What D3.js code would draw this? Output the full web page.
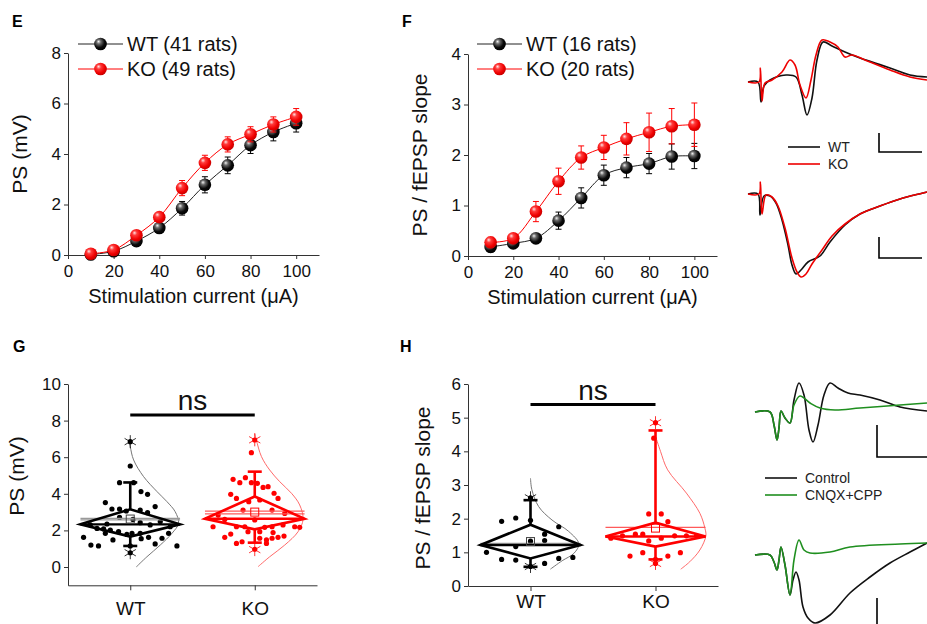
<!DOCTYPE html>
<html>
<head>
<meta charset="utf-8">
<script src="https://cdn.jsdelivr.net/npm/d3@7"></script>
<style>
  body { margin: 0; background: #fff; }
  svg { display: block; }
</style>
</head>
<body>
<div id="chart"></div>
<script>
const FONT = "'Liberation Sans', Arial, sans-serif"

// ---- E / F : input-output curves ----
const currents = [10, 20, 30, 40, 50, 60, 70, 80, 90, 100]
const currentTicks = [0, 20, 40, 60, 80, 100]
const psWT = [0.02, 0.15, 0.55, 1.07, 1.85, 2.78, 3.55, 4.35, 4.87, 5.22]
const psWTErr = [0.03, 0.05, 0.1, 0.15, 0.27, 0.32, 0.33, 0.33, 0.35, 0.35]
const psKO = [0.05, 0.2, 0.78, 1.5, 2.65, 3.65, 4.38, 4.78, 5.17, 5.47]
const psKOErr = [0.03, 0.06, 0.12, 0.18, 0.3, 0.3, 0.3, 0.3, 0.3, 0.33]
const ratioWT = [0.18, 0.25, 0.35, 0.7, 1.15, 1.6, 1.75, 1.83, 1.97, 1.98]
const ratioWTErr = [0.1, 0.05, 0.05, 0.17, 0.2, 0.2, 0.2, 0.2, 0.25, 0.25]
const ratioKO = [0.27, 0.35, 0.88, 1.48, 1.95, 2.15, 2.32, 2.45, 2.57, 2.6]
const ratioKOErr = [0.1, 0.05, 0.2, 0.26, 0.23, 0.24, 0.32, 0.38, 0.35, 0.43]

// ---- G / H : group comparison ----
const groups = ['WT', 'KO']
// dots: [jitter (category units), value]
const psDotsWT = [[0, 6.85], [0, 5.52], [-0.086, 4.61], [0.027, 4.61], [0.086, 4.12], [0.139, 3.97], [-0.2, 3.52], [0.2, 3.3],
  [-0.147, 3.17], [-0.086, 3.17], [-0.032, 3.06], [0.08, 3.11], [0.139, 2.97], [-0.086, 2.71], [0.022, 2.6], [0.241, 2.48],
  [-0.321, 2.3], [-0.187, 2.35], [0.08, 2.42], [0.16, 2.3], [-0.267, 2.11], [-0.214, 2.08], [-0.16, 2.02], [0.321, 2.2],
  [-0.2, 1.84], [-0.094, 1.93], [-0.027, 1.78], [0.014, 1.84], [0.08, 1.84], [0.308, 1.84], [-0.375, 1.62], [-0.139, 1.48],
  [0.088, 1.55], [0.147, 1.62], [0.255, 1.57], [-0.316, 1.2], [-0.255, 1.15], [0.2, 1.26], [0.375, 1.15], [0, 1.15], [0, 0.78]]
const psDotsKO = [[0, 6.94], [-0.027, 6.25], [-0.174, 4.79], [-0.12, 4.61], [-0.075, 4.88], [-0.027, 4.61], [0.021, 4.57],
  [0.067, 4.35], [0.107, 4.39], [-0.193, 3.97], [-0.147, 3.75], [0.155, 4.03], [0.187, 3.75], [0.04, 3.66], [-0.048, 3.57],
  [-0.094, 3.11], [0.139, 3.11], [-0.294, 2.84], [0.241, 2.93], [-0.241, 2.6], [0, 2.57], [-0.335, 2.2], [-0.147, 2.2],
  [-0.08, 2.2], [0.08, 2.17], [0.139, 2.2], [0.227, 2.3], [0.321, 2.2], [0.361, 2.17], [-0.054, 1.93], [0.04, 1.93],
  [0.147, 1.88], [-0.241, 1.62], [-0.193, 1.8], [0.04, 1.57], [0.094, 1.48], [0.139, 1.57], [0.187, 1.62], [0.235, 1.69],
  [-0.147, 1.29], [-0.102, 1.38], [0.094, 1.29], [0, 0.97]]
const ratioDotsWT = [[0, 2.62], [-0.231, 1.92], [-0.118, 2.02], [0, 1.95], [0.226, 1.76], [0.113, 1.54], [0.113, 1.35],
  [0, 1.33], [-0.118, 1.17], [-0.352, 1.0], [-0.231, 0.79], [-0.118, 0.77], [0.113, 0.67], [0.226, 0.82], [0.339, 0.85], [0, 0.58]]
const ratioDotsKO = [[0, 4.85], [-0.014, 4.39], [-0.054, 2.14], [0.046, 2.14], [0.099, 1.91], [-0.357, 1.42], [-0.264, 1.49],
  [-0.161, 1.54], [-0.102, 1.54], [-0.054, 1.34], [0.046, 1.42], [0.153, 1.49], [0.247, 1.49], [0.328, 1.49], [-0.204, 0.89],
  [-0.102, 0.99], [0.099, 0.89], [0.199, 0.99], [0, 0.79], [0, 0.67]]

// box stats: min/max (asterisks), whisker ends, quartiles, median, mean
const psStatsWT = { min: 0.78, lo: 1.15, q1: 1.66, med: 2.33, q3: 3.15, hi: 4.62, max: 6.85, mean: 2.62 }
const psStatsKO = { min: 0.95, lo: 1.33, q1: 2.06, med: 2.64, q3: 3.85, hi: 5.21, max: 6.95, mean: 3.0 }
const ratioStatsWT = { min: 0.58, lo: 0.57, q1: 0.82, med: 1.22, q3: 1.82, hi: 2.55, max: 2.62, mean: 1.32 }
const ratioStatsKO = { min: 0.67, lo: 0.79, q1: 1.17, med: 1.47, q3: 1.88, hi: 4.62, max: 4.85, mean: 1.72 }
const psMeanLinesWT = [2.66, 2.58]
const psMeanLinesKO = [3.05, 2.9]
const ratioMeanLinesWT = [1.27, 1.23]
const ratioMeanLinesKO = [1.74]

// distribution curves: [value, width (category units)]
const psCurveWT = [[0, 0.048], [0.56, 0.134], [1.2, 0.241], [1.84, 0.335], [2.39, 0.388], [3.02, 0.361], [3.57, 0.295],
  [4.12, 0.215], [4.94, 0.107], [5.85, 0.027], [6.58, 0], [6.95, -0.01]]
const psCurveKO = [[0.02, 0.027], [0.56, 0.12], [1.2, 0.241], [1.93, 0.348], [2.6, 0.388], [3.39, 0.361], [4.03, 0.295],
  [4.66, 0.201], [5.3, 0.12], [6.03, 0.054], [6.94, 0.013], [7.3, 0]]
const ratioCurveWT = [[0.5, 0.159], [0.75, 0.253], [0.97, 0.347], [1.25, 0.387], [1.62, 0.306], [1.96, 0.172], [2.36, 0.065],
  [2.86, 0.011], [3.2, 0]]
const ratioCurveKO = [[0.5, 0.202], [0.72, 0.274], [1.07, 0.355], [1.49, 0.403], [1.72, 0.395], [2.16, 0.355], [2.76, 0.247],
  [3.45, 0.097], [4.0, 0.04], [4.45, 0]]

// ---- example traces: [time (ms), mV] ----
const tracePSWT = [[0, 0], [0.5, 0], [0.65, -1.0], [0.8, -0.2], [1.1, 0.1], [1.9, 0.35], [2.4, 0.25], [2.7, -0.65], [2.95, -1.65],
  [3.2, -0.8], [3.45, 1.1], [3.75, 2.0], [4.2, 1.8], [4.85, 1.5], [5.6, 1.2], [6.35, 0.95], [7.1, 0.7], [8.1, 0.35], [8.95, 0.25]]
const tracePSKO = [[0, 0], [0.55, 0], [0.62, 0.7], [0.7, -0.95], [0.85, -0.05], [1.2, 0.1], [1.7, 0.5], [2.1, 1.1], [2.35, 0.85],
  [2.6, -0.15], [2.9, -0.8], [3.15, 0.1], [3.4, 1.35], [3.7, 2.1], [4.1, 2.0], [4.5, 1.75], [4.85, 1.25], [5.2, 1.35], [5.85, 1.1],
  [7.1, 0.6], [8.1, 0.25], [8.95, 0.1]]
const traceEPSPWT = [[0, 0], [0.5, 0], [0.6, -1.05], [0.8, -0.1], [1.1, -0.1], [1.4, -0.45], [1.7, -1.3], [2.0, -2.55], [2.2, -3.55],
  [2.4, -4.0], [2.65, -3.8], [3.0, -3.4], [3.6, -3.1], [4.1, -2.4], [4.85, -1.55], [5.6, -1.0], [6.6, -0.6], [7.6, -0.25], [8.95, 0.1]]
const traceEPSPKO = [[0, 0], [0.55, 0], [0.62, 0.6], [0.7, -1.0], [0.9, -0.05], [1.2, -0.15], [1.5, -0.6], [1.85, -1.7], [2.2, -3.2],
  [2.45, -3.9], [2.65, -4.15], [2.9, -4.0], [3.2, -3.5], [3.7, -2.8], [4.2, -2.1], [4.85, -1.5], [5.6, -1.0], [6.6, -0.6],
  [7.6, -0.25], [8.95, 0.1]]
const tracePSCtrl = [[0, 0], [0.75, 0], [0.95, -0.65], [1.1, -1.4], [1.2, -0.8], [1.3, 0.05], [1.5, -0.3], [1.75, -0.55],
  [1.95, 0.6], [2.2, 1.45], [2.45, 0.85], [2.7, -0.9], [2.9, -1.5], [3.15, -0.65], [3.45, 0.85], [3.75, 1.45], [4.15, 1.2],
  [4.65, 0.95], [5.25, 0.85], [6.25, 0.6], [7.25, 0.25], [8.6, 0.05]]
const tracePSDrug = [[0, 0], [0.75, 0], [0.95, -0.65], [1.1, -1.4], [1.2, -0.8], [1.3, 0.05], [1.5, -0.3], [1.75, -0.55],
  [1.95, 0.35], [2.25, 0.8], [2.75, 0.45], [3.25, 0.2], [4.0, 0.1], [5.25, 0.2], [7.25, 0.35], [8.6, 0.45]]
const traceEPSPCtrl = [[0, 0], [0.75, 0], [0.95, -0.35], [1.1, -0.75], [1.2, -0.25], [1.3, 0.4], [1.5, -0.5], [1.75, -2.0],
  [1.9, -1.25], [2.05, -0.85], [2.2, -1.25], [2.4, -2.6], [2.65, -3.15], [3.0, -3.4], [3.75, -3.0], [4.75, -1.9], [5.75, -1.1],
  [6.75, -0.4], [7.75, 0.15], [8.6, 0.6]]
const traceEPSPDrug = [[0, 0], [0.75, 0], [0.95, -0.35], [1.1, -0.75], [1.2, -0.25], [1.3, 0.4], [1.5, -0.5], [1.75, -2.0],
  [1.95, -0.25], [2.2, 0.75], [2.45, 0.25], [2.75, 0.1], [3.75, 0.15], [4.75, 0.4], [7.25, 0.55], [8.6, 0.6]]

const RED = '#ff0000'
const BLACK = '#000'
const GREEN = '#1f8f1f'

const svg = d3.select('#chart').append('svg').attr('width', 927).attr('height', 624)
  .attr('font-family', FONT)
const defs = svg.append('defs')

function ballGradient(id, stops) {
  const g = defs.append('radialGradient').attr('id', id)
    .attr('cx', '40%').attr('cy', '38%').attr('r', '62%').attr('fx', '34%').attr('fy', '30%')
  stops.forEach(s => g.append('stop').attr('offset', s[0]).attr('stop-color', s[1]))
}
ballGradient('ballWT', [['0%', '#f2f2f2'], ['28%', '#6a6a6a'], ['70%', '#0a0a0a'], ['100%', '#000']])
ballGradient('ballKO', [['0%', '#ffe4e4'], ['30%', '#ff3a3a'], ['75%', '#ee0000'], ['100%', '#c80000']])

function styleAxis(g, size) {
  g.attr('font-family', FONT).attr('font-size', size)
  g.select('.domain').attr('stroke', '#333')
  g.selectAll('.tick line').attr('stroke', '#333')
  g.selectAll('.tick text').attr('fill', '#111')
}

function panelLetter(label, x, y) {
  svg.append('text').attr('x', x).attr('y', y).attr('font-size', 16).attr('font-weight', 'bold').text(label)
}

function yLabel(text, x, y) {
  svg.append('text').attr('transform', `translate(${x},${y}) rotate(-90)`)
    .attr('text-anchor', 'middle').attr('font-size', 21).attr('fill', '#111').text(text)
}

// ---------- line panels (E, F) ----------
function linePanel(p) {
  const x = d3.scaleLinear().domain([0, 110]).range([p.x0, p.x1])
  const y = d3.scaleLinear().domain(p.yDomain).range([p.y0, p.y1])

  svg.append('g').attr('transform', `translate(0,${p.y0})`)
    .call(d3.axisBottom(x).tickValues(currentTicks).tickSize(4).tickSizeOuter(0).tickPadding(6))
    .call(g => styleAxis(g, 17))
  svg.append('g').attr('transform', `translate(${p.x0},0)`)
    .call(d3.axisLeft(y).tickValues(p.yTicks).tickFormat(d3.format('d')).tickSize(4).tickSizeOuter(0).tickPadding(3))
    .call(g => styleAxis(g, 17))

  svg.append('text').attr('x', (p.x0 + p.x1) / 2).attr('y', p.y0 + 48)
    .attr('text-anchor', 'middle').attr('font-size', 20).attr('fill', '#111')
    .text('Stimulation current (μA)')
  yLabel(p.yTitle, p.x0 - p.yTitleGap, (p.y0 + p.y1) / 2)

  const line = d3.line().x(d => x(d[0])).y(d => y(d[1])).curve(d3.curveCatmullRom.alpha(0.5))

  p.series.forEach(s => {
    const pts = currents.map((c, i) => [c, s.values[i], s.err[i]])
    const g = svg.append('g')
    g.append('path').datum(pts).attr('d', line).attr('fill', 'none')
      .attr('stroke', s.line).attr('stroke-width', 1)
    const eb = g.selectAll('.eb').data(pts).enter().append('g').attr('stroke', s.color).attr('stroke-width', 1)
    eb.append('line').attr('x1', d => x(d[0])).attr('x2', d => x(d[0]))
      .attr('y1', d => y(d[1] - d[2])).attr('y2', d => y(d[1] + d[2]))
    eb.append('line').attr('x1', d => x(d[0]) - 3).attr('x2', d => x(d[0]) + 3)
      .attr('y1', d => y(d[1] + d[2])).attr('y2', d => y(d[1] + d[2]))
    eb.append('line').attr('x1', d => x(d[0]) - 3).attr('x2', d => x(d[0]) + 3)
      .attr('y1', d => y(d[1] - d[2])).attr('y2', d => y(d[1] - d[2]))
    g.selectAll('circle').data(pts).enter().append('circle')
      .attr('cx', d => x(d[0])).attr('cy', d => y(d[1])).attr('r', 6.3)
      .attr('fill', `url(#${s.ball})`)
  })

  // legend
  p.series.forEach((s, i) => {
    const ly = p.legendY + i * 25
    svg.append('line').attr('x1', p.legendX).attr('x2', p.legendX + 45).attr('y1', ly).attr('y2', ly)
      .attr('stroke', s.line).attr('stroke-width', 1)
    svg.append('circle').attr('cx', p.legendX + 22.5).attr('cy', ly).attr('r', 6.3).attr('fill', `url(#${s.ball})`)
    svg.append('text').attr('x', p.legendX + 49).attr('y', ly).attr('dy', '0.36em')
      .attr('font-size', 20).attr('fill', '#111').text(s.name)
  })
}

linePanel({
  x0: 68, x1: 319, y0: 255, y1: 53, yDomain: [0, 8], yTicks: [0, 2, 4, 6, 8],
  yTitle: 'PS (mV)', yTitleGap: 41, legendX: 78, legendY: 44,
  series: [
    { name: 'WT (41 rats)', values: psWT, err: psWTErr, color: BLACK, line: '#222', ball: 'ballWT' },
    { name: 'KO (49 rats)', values: psKO, err: psKOErr, color: RED, line: RED, ball: 'ballKO' }
  ]
})
linePanel({
  x0: 468, x1: 717, y0: 256, y1: 54, yDomain: [0, 4], yTicks: [0, 1, 2, 3, 4],
  yTitle: 'PS / fEPSP slope', yTitleGap: 41, legendX: 477, legendY: 44,
  series: [
    { name: 'WT (16 rats)', values: ratioWT, err: ratioWTErr, color: BLACK, line: '#222', ball: 'ballWT' },
    { name: 'KO (20 rats)', values: ratioKO, err: ratioKOErr, color: RED, line: RED, ball: 'ballKO' }
  ]
})

// ---------- box panels (G, H) ----------
const boxHalf = 0.4

function asterisk(g, cx, cy, color) {
  const r = 6.5
  ;[90, 30, 150].forEach(a => {
    const dx = r * Math.cos(a * Math.PI / 180), dy = r * Math.sin(a * Math.PI / 180)
    g.append('line').attr('x1', cx - dx).attr('x2', cx + dx).attr('y1', cy - dy).attr('y2', cy + dy)
      .attr('stroke', color).attr('stroke-width', 0.8)
  })
}

function boxPanel(p) {
  const x = d3.scaleLinear().domain([0.5, 2.5]).range([p.x0, p.x1])
  const y = d3.scaleLinear().domain(p.yDomain).range([p.y0, p.y1])

  svg.append('g').attr('transform', `translate(0,${p.y0})`)
    .call(d3.axisBottom(x).tickValues([1, 2]).tickFormat(d => groups[d - 1]).tickSize(5).tickSizeOuter(0).tickPadding(p.xPad))
    .call(g => styleAxis(g, 19))
  svg.append('g').attr('transform', `translate(${p.x0},0)`)
    .call(d3.axisLeft(y).tickValues(p.yTicks).tickFormat(d3.format('d')).tickSize(4).tickSizeOuter(0).tickPadding(3))
    .call(g => styleAxis(g, 17))
  yLabel(p.yTitle, p.x0 - p.yTitleGap, p.yTitleY)

  p.sets.forEach((s, i) => {
    const c = i + 1
    const cx = x(c)
    const g = svg.append('g')

    g.append('path').datum(s.curve)
      .attr('d', d3.line().x(d => x(c + d[1])).y(d => y(d[0])).curve(d3.curveCatmullRom.alpha(0.5)))
      .attr('fill', 'none').attr('stroke', s.curveColor).attr('stroke-width', 1)

    g.selectAll('.dot').data(s.dots).enter().append('circle')
      .attr('cx', d => x(c + d[0])).attr('cy', d => y(d[1])).attr('r', 2.6).attr('fill', s.color)

    s.meanLines.forEach(m => {
      g.append('line').attr('x1', x(c - boxHalf)).attr('x2', x(c + boxHalf)).attr('y1', y(m)).attr('y2', y(m))
        .attr('stroke', s.meanColor).attr('stroke-width', 1.2)
    })

    const st = s.stats
    const dia = [[c - boxHalf, st.med], [c, st.q3], [c + boxHalf, st.med], [c, st.q1]]
    g.append('path').attr('d', d3.line().x(d => x(d[0])).y(d => y(d[1]))(dia) + 'Z')
      .attr('fill', 'none').attr('stroke', s.color).attr('stroke-width', 2.6).attr('stroke-linejoin', 'miter')
    g.append('line').attr('x1', x(c - boxHalf)).attr('x2', x(c + boxHalf)).attr('y1', y(st.med)).attr('y2', y(st.med))
      .attr('stroke', s.color).attr('stroke-width', 2.4)

    ;[[st.q3, st.hi], [st.q1, st.lo]].forEach(w => {
      g.append('line').attr('x1', cx).attr('x2', cx).attr('y1', y(w[0])).attr('y2', y(w[1]))
        .attr('stroke', s.color).attr('stroke-width', 2.6)
      g.append('line').attr('x1', cx - 7).attr('x2', cx + 7).attr('y1', y(w[1])).attr('y2', y(w[1]))
        .attr('stroke', s.color).attr('stroke-width', 2.6)
    })

    g.append('rect').attr('x', cx - 4).attr('y', y(st.mean) - 4).attr('width', 8).attr('height', 8)
      .attr('fill', 'none').attr('stroke', s.squareColor).attr('stroke-width', 1)

    asterisk(g, cx, y(st.max), s.color)
    asterisk(g, cx, y(st.min), s.color)
  })

  // significance
  svg.append('line').attr('x1', x(1)).attr('x2', x(2)).attr('y1', y(p.sigAt)).attr('y2', y(p.sigAt))
    .attr('stroke', '#000').attr('stroke-width', 3)
  svg.append('text').attr('x', (x(1) + x(2)) / 2).attr('y', y(p.sigAt) - 5)
    .attr('text-anchor', 'middle').attr('font-size', 28).attr('fill', '#111').text('ns')
}

boxPanel({
  x0: 68, x1: 317, y0: 585.3, y1: 384, yDomain: [-1, 10], yTicks: [0, 2, 4, 6, 8, 10],
  yTitle: 'PS (mV)', yTitleGap: 44, yTitleY: 476, xPad: 11, sigAt: 8.3,
  sets: [
    { dots: psDotsWT, stats: psStatsWT, curve: psCurveWT, meanLines: psMeanLinesWT, color: BLACK,
      curveColor: '#777', meanColor: '#999', squareColor: '#444' },
    { dots: psDotsKO, stats: psStatsKO, curve: psCurveKO, meanLines: psMeanLinesKO, color: RED,
      curveColor: '#ff6a6a', meanColor: '#ff5a5a', squareColor: RED }
  ]
})
boxPanel({
  x0: 468, x1: 718, y0: 586, y1: 384, yDomain: [0, 6], yTicks: [0, 1, 2, 3, 4, 5, 6],
  yTitle: 'PS / fEPSP slope', yTitleGap: 38, yTitleY: 488, xPad: 4, sigAt: 5.39,
  sets: [
    { dots: ratioDotsWT, stats: ratioStatsWT, curve: ratioCurveWT, meanLines: ratioMeanLinesWT, color: BLACK,
      curveColor: '#777', meanColor: '#999', squareColor: '#444' },
    { dots: ratioDotsKO, stats: ratioStatsKO, curve: ratioCurveKO, meanLines: ratioMeanLinesKO, color: RED,
      curveColor: '#ff6a6a', meanColor: '#ff5a5a', squareColor: RED }
  ]
})

// ---------- example traces ----------
function drawTraces(t) {
  const x = d3.scaleLinear().domain([0, t.tMax]).range([t.x0, t.x0 + t.tMax * 20])
  const y = d3.scaleLinear().domain([0, 1]).range([t.base, t.base - 20])
  const line = d3.line().x(d => x(d[0])).y(d => y(d[1])).curve(d3.curveCatmullRom.alpha(0.5))
  t.series.forEach(s => {
    svg.append('path').datum(s.data).attr('d', line).attr('fill', 'none')
      .attr('stroke', s.color).attr('stroke-width', 1.6).attr('stroke-linejoin', 'round')
  })
  const b = t.bar
  const path = d3.path()
  path.moveTo(x(b.t0), y(b.v0 + b.dv))
  path.lineTo(x(b.t0), y(b.v0))
  path.lineTo(x(b.t0 + b.dt), y(b.v0))
  svg.append('path').attr('d', path.toString()).attr('fill', 'none').attr('stroke', '#000').attr('stroke-width', 1.6)
}

drawTraces({ x0: 748, tMax: 9, base: 82, bar: { t0: 6.55, v0: -3.5, dt: 2.15, dv: 0.95 },
  series: [{ data: tracePSWT, color: '#111' }, { data: tracePSKO, color: '#ee0000' }] })
drawTraces({ x0: 748, tMax: 9, base: 194, bar: { t0: 6.55, v0: -3.2, dt: 2.15, dv: 1.05 },
  series: [{ data: traceEPSPWT, color: '#111' }, { data: traceEPSPKO, color: '#ee0000' }] })
drawTraces({ x0: 755, tMax: 8.6, base: 412, bar: { t0: 6.1, v0: -2.25, dt: 2.5, dv: 1.6 },
  series: [{ data: tracePSCtrl, color: '#111' }, { data: tracePSDrug, color: GREEN }] })
drawTraces({ x0: 755, tMax: 8.6, base: 555, bar: { t0: 6.1, v0: -3.8, dt: 2.5, dv: 1.65 },
  series: [{ data: traceEPSPCtrl, color: '#111' }, { data: traceEPSPDrug, color: GREEN }] })

function traceLegend(x0, y0, items) {
  items.forEach((it, i) => {
    const ly = y0 + i * 17
    svg.append('line').attr('x1', x0).attr('x2', x0 + 32).attr('y1', ly).attr('y2', ly)
      .attr('stroke', it[1]).attr('stroke-width', 1.6)
    svg.append('text').attr('x', x0 + 40).attr('y', ly).attr('dy', '0.36em')
      .attr('font-size', 14).attr('fill', '#222').text(it[0])
  })
}
traceLegend(788, 147, [['WT', '#111'], ['KO', '#ee0000']])
traceLegend(765, 478, [['Control', '#111'], ['CNQX+CPP', GREEN]])

panelLetter('E', 12, 27)
panelLetter('F', 402, 27)
panelLetter('G', 13, 352)
panelLetter('H', 400, 352)
</script>
</body>
</html>
